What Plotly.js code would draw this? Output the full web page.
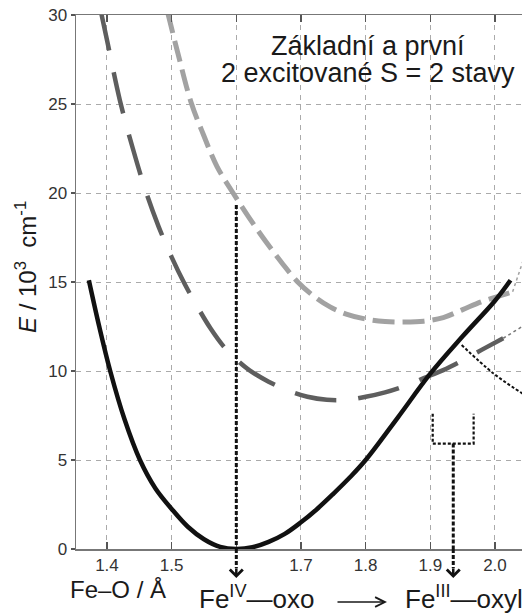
<!DOCTYPE html>
<html><head><meta charset="utf-8">
<script src="https://cdn.plot.ly/plotly-3.0.1.min.js"></script>
<style>html,body{margin:0;padding:0;background:#fff}#chart{width:522px;height:614px}</style>
</head><body><div id="chart"></div>
<script>
// Ground state (solid black)
const groundX = [1.372,1.388,1.405,1.427,1.451,1.475,1.5,1.525,1.55,1.575,1.6,1.625,1.65,1.675,1.70,1.725,1.75,1.775,1.8,1.85,1.9,1.95,2.0,2.024];
const groundE = [15.1,12.5,10.0,7.3,5.0,3.4,2.25,1.25,0.55,0.12,0.0,0.1,0.4,0.85,1.5,2.25,3.1,4.0,5.0,7.4,9.85,11.95,13.95,15.1];
// First excited state (dark grey long dashes) and its thin dotted continuation
const exc1X = [1.39,1.40,1.42,1.44,1.46,1.48,1.50,1.52,1.54,1.56,1.58,1.60,1.62,1.65,1.68,1.71,1.74,1.77,1.80,1.83,1.86,1.89,1.92,1.95,1.98,2.0128];
const exc1E = [30.3,28.6,25.2,22.5,20.1,18.1,16.4,14.9,13.6,12.4,11.4,10.65,10.05,9.4,8.9,8.55,8.38,8.38,8.55,8.8,9.15,9.6,10.05,10.6,11.2,11.84];
const exc1TailX = [2.0128,2.0418,2.06];
const exc1TailE = [11.84,12.47,12.9];
// Second excited state (light grey dashes) and its thin dotted continuation
const exc2X = [1.4935,1.51,1.53,1.55,1.57,1.595,1.62,1.645,1.67,1.695,1.72,1.745,1.77,1.80,1.83,1.86,1.89,1.92,1.95,1.98,2.0026,2.0273];
const exc2E = [30.2,27.8,25.1,23.2,21.5,20.0,18.6,17.3,16.1,15.0,14.2,13.6,13.2,12.92,12.78,12.75,12.8,13.0,13.45,13.9,14.17,14.45];
const exc2TailX = [2.0273,2.0397,2.05];
const exc2TailE = [14.45,15.86,16.9];
// Thin black dotted crossing line
const crossX = [1.9485,1.9974,2.0418,2.06];
const crossE = [11.46,9.87,8.75,8.35];
// Dotted arrows down to the labels
const arrowX = [1.6,1.9355];
const arrowTopE = [19.33,5.92];
const bracketX = [1.9037,1.967];
const bracketTopE = 7.6;
const bracketBottomE = 5.92;
// Axis ticks
const xTicks = [1.4,1.5,1.6,1.7,1.8,1.9,2.0];
const xTickText = ['1.4','1.5','','1.7','1.8','1.9','2.0'];
const yTicks = [0,5,10,15,20,25,30];
const yTickText = ['0','5','10','15','20','25','30'];

const FONT = 'Liberation Sans, Arial, Helvetica, sans-serif';

const traces = [
  {x: exc2X, y: exc2E, mode:'lines', line:{color:'#a2a2a2', width:5, dash:'22px,8px', shape:'spline', smoothing:1}, hoverinfo:'skip'},
  {x: exc2TailX, y: exc2TailE, mode:'lines', line:{color:'#a2a2a2', width:1.5, dash:'3px,3px'}, hoverinfo:'skip'},
  {x: exc1X, y: exc1E, mode:'lines', line:{color:'#5e5e5e', width:4.5, dash:'42px,22px', shape:'spline', smoothing:1}, hoverinfo:'skip'},
  {x: exc1TailX, y: exc1TailE, mode:'lines', line:{color:'#777', width:1.5, dash:'3px,3px'}, hoverinfo:'skip'},
  {x: crossX, y: crossE, mode:'lines', line:{color:'#111', width:2, dash:'3px,2px', shape:'spline'}, hoverinfo:'skip'},
  {x: groundX, y: groundE, mode:'lines', line:{color:'#111', width:4.5, shape:'spline', smoothing:1}, hoverinfo:'skip'}
];

const shapes = [];
const annotations = [];
const dotted = {color:'#111', width:3, dash:'4px,2px'};
for (let i = 0; i < arrowX.length; i++) {
  shapes.push({type:'line', xref:'x', yref:'y', x0:arrowX[i], x1:arrowX[i], y0:arrowTopE[i], y1:0, line:dotted});
  shapes.push({type:'line', xref:'x', yref:'paper', x0:arrowX[i], x1:arrowX[i], y0:0, y1:-0.036, line:dotted});
  annotations.push({xref:'x', yref:'paper', x:arrowX[i], y:-0.0543, text:'', showarrow:true,
    ax:0, ay:-11, arrowhead:4, arrowwidth:2.5, arrowsize:1, arrowcolor:'#111', standoff:0});
}
shapes.push({type:'path', xref:'x', yref:'y', layer:'above',
  path:'M'+bracketX[0]+','+bracketTopE+' L'+bracketX[0]+','+bracketBottomE+' L'+bracketX[1]+','+bracketBottomE+' L'+bracketX[1]+','+bracketTopE,
  line:{color:'#111', width:2.2, dash:'3px,2px'}});

// texts
annotations.push({xref:'paper', yref:'paper', x:0.6547, y:0.9427, xanchor:'center', yanchor:'middle', showarrow:false,
  text:'Základní a první', font:{family:FONT, size:27, color:'#1a1a1a'}});
annotations.push({xref:'paper', yref:'paper', x:0.6547, y:0.8921, xanchor:'center', yanchor:'middle', showarrow:false,
  text:'2 excitované S = 2 stavy', font:{family:FONT, size:27, color:'#1a1a1a'}});
annotations.push({xref:'paper', yref:'paper', x:0.0948, y:-0.076, xanchor:'center', yanchor:'middle', showarrow:false,
  text:'Fe–O / Å', font:{family:FONT, size:24, color:'#1a1a1a'}});
annotations.push({xref:'paper', yref:'paper', x:0.2706, y:-0.091, xanchor:'left', yanchor:'middle', showarrow:false,
  text:'Fe<sup>IV</sup>—oxo', font:{family:FONT, size:26, color:'#1a1a1a'}});
annotations.push({xref:'paper', yref:'paper', x:0.7325, y:-0.091, xanchor:'left', yanchor:'middle', showarrow:false,
  text:'Fe<sup>III</sup>—oxyl', font:{family:FONT, size:26, color:'#1a1a1a'}});
annotations.push({xref:'paper', yref:'paper', x:0.6973, y:-0.0993, ax:-51, ay:0, text:'', showarrow:true,
  arrowhead:5, arrowwidth:1.6, arrowsize:1.2, arrowcolor:'#1a1a1a', standoff:0});
annotations.push({xref:'paper', yref:'paper', x:-0.1121, y:0.528, xanchor:'center', yanchor:'middle', showarrow:false, textangle:-90,
  text:'<i>E</i> / 10<sup>3</sup>&nbsp; cm<sup>-1</sup>', font:{family:FONT, size:24, color:'#1a1a1a'}});

const layout = {
  width:522, height:614,
  margin:{l:76, r:0, t:15, b:65, pad:0},
  paper_bgcolor:'#fff', plot_bgcolor:'#fff',
  showlegend:false,
  xaxis:{range:[1.3521,2.0418], tickvals:xTicks, ticktext:xTickText, ticks:'inside', ticklen:7, tickwidth:1.2, tickcolor:'#555',
    showline:true, linecolor:'#777', linewidth:1.5, mirror:'ticks', zeroline:false,
    showgrid:true, gridcolor:'#aaa', gridwidth:1, griddash:'5px,5px',
    tickfont:{family:FONT, size:17, color:'#333'}},
  yaxis:{range:[0,30], tickvals:yTicks, ticktext:yTickText, ticks:'outside', ticklen:4, tickwidth:1.2, tickcolor:'#555',
    showline:true, linecolor:'#777', linewidth:1.5, zeroline:false,
    showgrid:true, gridcolor:'#aaa', gridwidth:1, griddash:'5px,5px',
    tickfont:{family:FONT, size:17, color:'#333'}},
  shapes: shapes,
  annotations: annotations
};

Plotly.newPlot('chart', traces, layout, {displayModeBar:false, staticPlot:true});
</script>
</body></html>
